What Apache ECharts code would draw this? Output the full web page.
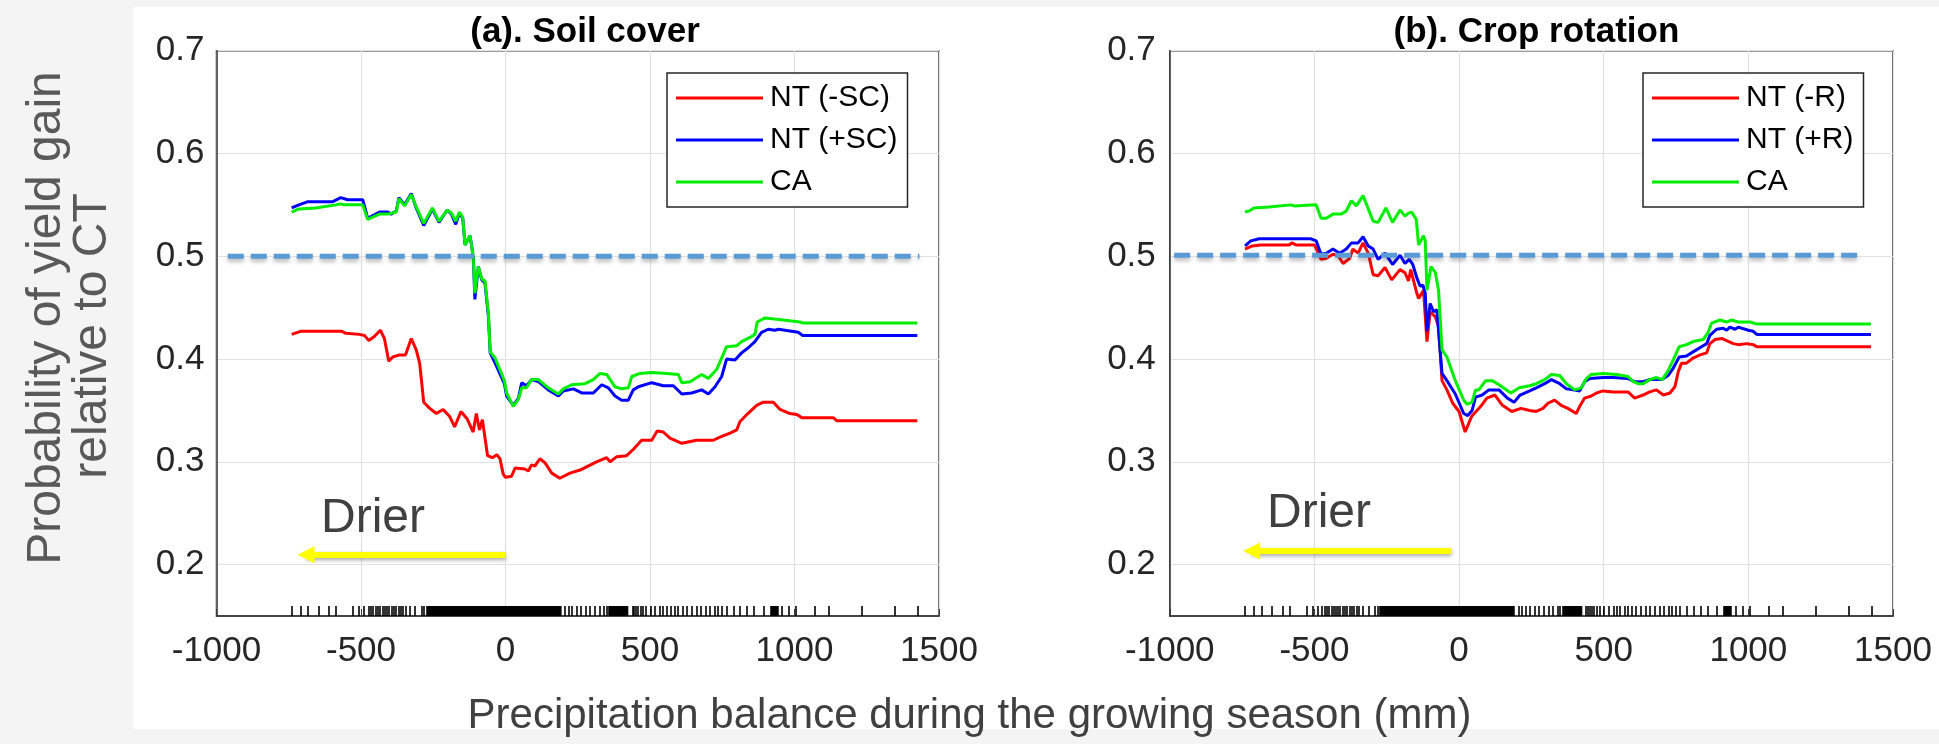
<!DOCTYPE html>
<html>
<head>
<meta charset="utf-8">
<script src="https://cdn.jsdelivr.net/npm/echarts@6/dist/echarts.min.js"></script>
<style>
html,body{margin:0;padding:0;background:#f4f4f4;}
#c{width:1939px;height:744px;}
</style>
</head>
<body>
<div id="c"></div>
<script>
// ---------- data ----------
const xTicks = [-1000, -500, 0, 500, 1000, 1500];
const yTicks = [0.2, 0.3, 0.4, 0.5, 0.6, 0.7];
const namesA = ['NT (-SC)', 'NT (+SC)', 'CA'];
const namesB = ['NT (-R)', 'NT (+R)', 'CA'];

// (a) Soil cover
const aRed = [[-740,0.424],[-709,0.427],[-566,0.427],[-552,0.425],[-506,0.424],[-488,0.423],[-473,0.418],[-454,0.422],[-433,0.428],[-419,0.420],[-404,0.398],[-390,0.402],[-367,0.404],[-346,0.404],[-326,0.420],[-309,0.409],[-297,0.396],[-283,0.358],[-262,0.352],[-239,0.347],[-216,0.351],[-193,0.344],[-176,0.334],[-154,0.349],[-133,0.342],[-112,0.329],[-101,0.347],[-90,0.331],[-80,0.341],[-62,0.306],[-45,0.304],[-30,0.307],[-19,0.303],[-8,0.288],[0,0.285],[21,0.286],[33,0.294],[67,0.293],[79,0.291],[90,0.297],[102,0.296],[119,0.303],[137,0.299],[160,0.289],[188,0.284],[223,0.289],[258,0.292],[315,0.300],[350,0.304],[362,0.300],[385,0.305],[419,0.306],[442,0.312],[471,0.321],[506,0.321],[525,0.330],[546,0.329],[569,0.323],[610,0.318],[661,0.321],[719,0.321],[742,0.324],[777,0.328],[800,0.331],[811,0.339],[835,0.346],[869,0.355],[892,0.358],[927,0.358],[950,0.351],[984,0.347],[1008,0.346],[1025,0.343],[1134,0.343],[1146,0.340],[1425,0.340]];
const aBlue = [[-740,0.547],[-715,0.550],[-686,0.553],[-599,0.553],[-570,0.557],[-546,0.555],[-494,0.555],[-477,0.537],[-436,0.543],[-407,0.543],[-396,0.541],[-378,0.544],[-369,0.557],[-349,0.550],[-326,0.561],[-309,0.547],[-283,0.530],[-253,0.546],[-230,0.533],[-202,0.545],[-187,0.541],[-172,0.531],[-160,0.542],[-148,0.537],[-140,0.511],[-123,0.520],[-117,0.510],[-111,0.497],[-106,0.458],[-94,0.490],[-82,0.477],[-71,0.474],[-59,0.441],[-53,0.406],[-36,0.396],[-4,0.376],[4,0.364],[27,0.355],[45,0.362],[56,0.377],[73,0.374],[90,0.380],[114,0.378],[148,0.370],[183,0.364],[200,0.369],[235,0.371],[264,0.367],[304,0.367],[333,0.375],[356,0.372],[379,0.364],[402,0.360],[425,0.360],[442,0.370],[460,0.373],[506,0.377],[546,0.374],[581,0.374],[610,0.366],[644,0.367],[679,0.370],[702,0.366],[725,0.373],[748,0.383],[765,0.400],[794,0.399],[817,0.406],[840,0.411],[863,0.417],[886,0.426],[909,0.429],[932,0.428],[944,0.429],[1013,0.426],[1028,0.423],[1425,0.423]];
const aGreen = [[-740,0.543],[-715,0.546],[-657,0.547],[-587,0.550],[-573,0.551],[-558,0.550],[-494,0.550],[-477,0.536],[-436,0.541],[-407,0.541],[-378,0.543],[-369,0.556],[-349,0.549],[-326,0.560],[-309,0.548],[-283,0.532],[-253,0.547],[-230,0.534],[-202,0.545],[-187,0.542],[-172,0.534],[-160,0.543],[-148,0.538],[-140,0.511],[-123,0.520],[-117,0.510],[-111,0.497],[-106,0.464],[-94,0.490],[-82,0.478],[-71,0.476],[-59,0.444],[-53,0.407],[-36,0.401],[-4,0.379],[4,0.367],[27,0.354],[45,0.361],[56,0.372],[73,0.372],[90,0.380],[114,0.380],[148,0.372],[183,0.366],[200,0.371],[229,0.375],[275,0.376],[304,0.380],[327,0.386],[350,0.385],[379,0.373],[402,0.371],[425,0.372],[437,0.383],[465,0.386],[506,0.387],[558,0.386],[598,0.385],[610,0.377],[639,0.378],[679,0.385],[702,0.381],[731,0.390],[765,0.412],[800,0.413],[817,0.417],[846,0.421],[863,0.424],[871,0.436],[898,0.440],[961,0.438],[1019,0.436],[1030,0.435],[1425,0.435]];

// (b) Crop rotation
const bRed = [[-740,0.507],[-715,0.510],[-686,0.511],[-587,0.511],[-578,0.513],[-564,0.511],[-500,0.511],[-477,0.497],[-459,0.498],[-436,0.502],[-419,0.501],[-401,0.493],[-378,0.498],[-367,0.507],[-349,0.503],[-332,0.513],[-314,0.503],[-297,0.482],[-280,0.481],[-256,0.489],[-233,0.477],[-204,0.487],[-187,0.484],[-175,0.476],[-167,0.487],[-146,0.464],[-140,0.459],[-123,0.467],[-111,0.417],[-100,0.446],[-82,0.441],[-71,0.432],[-59,0.379],[-42,0.370],[-22,0.357],[0,0.349],[21,0.329],[43,0.344],[75,0.354],[96,0.362],[124,0.365],[150,0.355],[182,0.349],[214,0.352],[244,0.350],[267,0.349],[290,0.352],[307,0.357],[330,0.360],[353,0.355],[376,0.352],[405,0.347],[417,0.354],[434,0.362],[457,0.364],[475,0.367],[498,0.369],[532,0.368],[584,0.368],[607,0.362],[636,0.365],[659,0.368],[682,0.370],[706,0.365],[729,0.367],[746,0.373],[758,0.388],[769,0.396],[786,0.396],[809,0.401],[833,0.404],[856,0.406],[867,0.415],[885,0.419],[908,0.420],[925,0.418],[948,0.415],[965,0.414],[994,0.415],[1017,0.414],[1029,0.412],[1424,0.412]];
const bBlue = [[-740,0.510],[-720,0.515],[-691,0.517],[-512,0.517],[-494,0.515],[-477,0.502],[-459,0.503],[-436,0.507],[-413,0.503],[-390,0.507],[-372,0.513],[-349,0.513],[-332,0.519],[-314,0.510],[-297,0.507],[-280,0.497],[-256,0.503],[-230,0.492],[-204,0.501],[-187,0.493],[-172,0.497],[-160,0.492],[-146,0.479],[-135,0.471],[-125,0.472],[-117,0.464],[-111,0.427],[-100,0.454],[-88,0.446],[-77,0.448],[-59,0.386],[-42,0.379],[-13,0.366],[16,0.347],[30,0.345],[45,0.350],[57,0.363],[80,0.365],[103,0.370],[138,0.370],[167,0.362],[190,0.358],[211,0.365],[244,0.369],[267,0.372],[296,0.376],[319,0.380],[348,0.376],[371,0.371],[394,0.370],[417,0.369],[434,0.378],[452,0.381],[498,0.382],[532,0.382],[584,0.381],[607,0.378],[636,0.378],[659,0.380],[700,0.380],[723,0.384],[740,0.391],[761,0.402],[786,0.403],[809,0.407],[838,0.412],[856,0.415],[867,0.423],[890,0.429],[913,0.430],[925,0.428],[936,0.431],[954,0.429],[965,0.431],[1000,0.428],[1017,0.427],[1029,0.424],[1424,0.424]];
const bGreen = [[-740,0.543],[-726,0.544],[-709,0.547],[-657,0.548],[-581,0.550],[-570,0.549],[-494,0.550],[-477,0.537],[-459,0.537],[-436,0.541],[-407,0.541],[-390,0.544],[-372,0.554],[-355,0.549],[-332,0.559],[-297,0.534],[-280,0.533],[-253,0.547],[-230,0.533],[-204,0.545],[-187,0.539],[-175,0.542],[-164,0.543],[-148,0.536],[-140,0.511],[-123,0.520],[-117,0.515],[-111,0.467],[-97,0.490],[-82,0.484],[-71,0.467],[-59,0.409],[-42,0.402],[-13,0.379],[16,0.360],[28,0.356],[45,0.358],[57,0.370],[68,0.370],[92,0.379],[115,0.379],[138,0.375],[179,0.367],[208,0.372],[244,0.374],[267,0.376],[296,0.380],[319,0.385],[348,0.384],[371,0.376],[400,0.370],[423,0.372],[440,0.381],[457,0.385],[498,0.386],[544,0.385],[584,0.383],[602,0.378],[619,0.376],[636,0.376],[659,0.380],[682,0.382],[703,0.380],[723,0.389],[740,0.399],[761,0.412],[786,0.414],[809,0.417],[844,0.419],[861,0.426],[873,0.435],[902,0.438],[925,0.436],[942,0.438],[965,0.436],[1006,0.436],[1029,0.434],[1424,0.434]];

// 0.5 reference lines
const refA = [[-961,0.5],[1432,0.5]];
const refB = [[-985,0.501],[1394,0.501]];
// "Drier" arrows (start, tip)
const arrowA = [[0,0.2097],[-690,0.2097]];
const arrowB = [[-27,0.2133],[-717,0.2133]];

// rug of observations (precipitation balance, mm)
const rugTicks = [-740,-708,-682,-645,-609,-585,-526,-506,-489,-473,-465,-457,-449,-441,-433,-425,-417,-410,-402,-394,-386,-378,-370,-362,-354,-345,-332,-313,-289,-281,206,218,230,246,262,278,294,310,326,342,350,440,446,452,460,468,476,486,502,518,534,546,558,573,585,597,613,629,645,661,677,693,709,725,737,749,765,789,813,837,861,893,957,981,1005,1072,1121,1233,1348,1428];
const rugBands = [[-273,190],[358,422],[917,941]];

// ---------- chart ----------
const FONT = "'Liberation Sans', Arial, sans-serif";
const chart = echarts.init(document.getElementById('c'), null, {renderer: 'canvas'});
const rugData = rugTicks.map(v => [v, v]).concat(rugBands);

const grids = [
  {left: 216.5, top: 50.7, width: 722.5, height: 565.3},
  {left: 1169.8, top: 50.7, width: 723.2, height: 565.3}
];

function xAxis(i) {
  return {
    type: 'value', gridIndex: i, min: xTicks[0], max: xTicks[xTicks.length - 1], interval: 500,
    axisLine: {show: true, onZero: false, lineStyle: {color: '#3a3a3a', width: 1.5}},
    axisTick: {show: true, inside: true, length: 7, lineStyle: {color: '#3a3a3a'}},
    axisLabel: {color: '#262626', fontFamily: FONT, fontSize: 35, margin: 18, formatter: v => String(v)},
    splitLine: {show: true, lineStyle: {color: '#e2e2e2', width: 1.2}}
  };
}
function yAxis(i) {
  return {
    type: 'value', gridIndex: i, min: 0.15, max: 0.7, interval: 0.05,
    axisLine: {show: true, onZero: false, lineStyle: {color: '#3a3a3a', width: 1.5}},
    axisTick: {show: false},
    axisLabel: {
      color: '#262626', fontFamily: FONT, fontSize: 35, margin: i === 0 ? 12 : 14,
      formatter: v => yTicks.some(t => Math.abs(t - v) < 1e-6) ? v.toFixed(1) : ''
    },
    splitLine: {show: true, lineStyle: {color: ['rgba(0,0,0,0)', '#e2e2e2'], width: 1.2}}
  };
}
function lineSeries(name, data, color, i) {
  return {
    type: 'line', name: name, data: data, xAxisIndex: i, yAxisIndex: i,
    showSymbol: false, symbol: 'none', smooth: false, z: 5,
    lineStyle: {color: color, width: 3}, itemStyle: {color: color}
  };
}
function refSeries(data, i) {
  return {
    type: 'line', data: data, xAxisIndex: i, yAxisIndex: i, symbol: 'none', z: 7,
    lineStyle: {color: '#5b9bd5', width: 5, type: [16, 7], shadowColor: 'rgba(0,0,0,0.28)', shadowBlur: 4, shadowOffsetY: 3}
  };
}
function arrowSeries(coords, i) {
  return {
    type: 'lines', coordinateSystem: 'cartesian2d', xAxisIndex: i, yAxisIndex: i, z: 8,
    symbol: ['none', 'triangle'], symbolSize: 17,
    lineStyle: {color: '#ffff00', width: 6, opacity: 1, curveness: 0, shadowColor: 'rgba(0,0,0,0.35)', shadowBlur: 4, shadowOffsetY: 2},
    data: [{coords: coords}]
  };
}
function rugSeries(i) {
  return {
    type: 'custom', xAxisIndex: i, yAxisIndex: i, z: 3, silent: true,
    data: rugData,
    renderItem: function (params, api) {
      const p0 = api.coord([api.value(0), 0.15]);
      const p1 = api.coord([api.value(1), 0.15]);
      const x0 = Math.round(p0[0]) - 0.8;
      const w = Math.max(1.6, p1[0] - p0[0] + 1.6);
      return {type: 'rect', shape: {x: x0, y: p0[1] - 10, width: w, height: 10}, style: {fill: '#000'}};
    }
  };
}
function legend(i, names, left) {
  return {
    data: names, orient: 'vertical', left: left, top: 73,
    icon: 'rect', itemWidth: 87, itemHeight: 3, itemGap: 12,
    padding: [10, 10, 10, 9],
    borderColor: '#262626', borderWidth: 1.5, backgroundColor: '#ffffff', borderRadius: 0,
    textStyle: {fontFamily: FONT, fontSize: 30, color: '#000', padding: [0, 0, 0, 2]},
    selectedMode: false
  };
}

const option = {
  animation: false,
  backgroundColor: '#f4f4f4',
  title: [
    {text: '(a). Soil cover', left: 580, top: 10, textAlign: 'center',
     textStyle: {fontFamily: FONT, fontWeight: 'bold', fontSize: 35, color: '#000'}},
    {text: '(b). Crop rotation', left: 1531.4, top: 10, textAlign: 'center',
     textStyle: {fontFamily: FONT, fontWeight: 'bold', fontSize: 35, color: '#000'}}
  ],
  legend: [legend(0, namesA, 667), legend(1, namesB, 1643)],
  grid: grids.map(g => Object.assign({show: true, backgroundColor: '#fff', borderColor: '#3a3a3a', borderWidth: 1.5}, g)),
  xAxis: [xAxis(0), xAxis(1)],
  yAxis: [yAxis(0), yAxis(1)],
  series: [
    rugSeries(0), rugSeries(1),
    lineSeries(namesA[0], aRed, '#ff0000', 0),
    lineSeries(namesA[1], aBlue, '#0000ff', 0),
    lineSeries(namesA[2], aGreen, '#00ee00', 0),
    lineSeries(namesB[0], bRed, '#ff0000', 1),
    lineSeries(namesB[1], bBlue, '#0000ff', 1),
    lineSeries(namesB[2], bGreen, '#00ee00', 1),
    refSeries(refA, 0), refSeries(refB, 1),
    arrowSeries(arrowA, 0), arrowSeries(arrowB, 1)
  ],
  graphic: [
    {type: 'rect', z: -100, silent: true, shape: {x: 133, y: 7, width: 1806, height: 722}, style: {fill: '#ffffff'}},
    {type: 'text', z: 100, silent: true, x: 321, y: 519, style: {text: 'Drier', font: "48px " + FONT, fill: '#404040', verticalAlign: 'middle', align: 'left'}},
    {type: 'text', z: 100, silent: true, x: 1267, y: 514, style: {text: 'Drier', font: "48px " + FONT, fill: '#404040', verticalAlign: 'middle', align: 'left'}},
    {type: 'text', z: 100, silent: true, x: 969.5, y: 716, style: {text: 'Precipitation balance during the growing season (mm)', font: "42px " + FONT, fill: '#404040', verticalAlign: 'middle', align: 'center'}},
    {type: 'text', z: 100, silent: true, x: 47, y: 318, rotation: Math.PI / 2,
     style: {text: 'Probability of yield gain', font: "48px " + FONT, fill: '#595959', verticalAlign: 'middle', align: 'center'}},
    {type: 'text', z: 100, silent: true, x: 93, y: 336, rotation: Math.PI / 2,
     style: {text: 'relative to CT', font: "48px " + FONT, fill: '#595959', verticalAlign: 'middle', align: 'center'}}
  ]
};
chart.setOption(option);
</script>
</body>
</html>
